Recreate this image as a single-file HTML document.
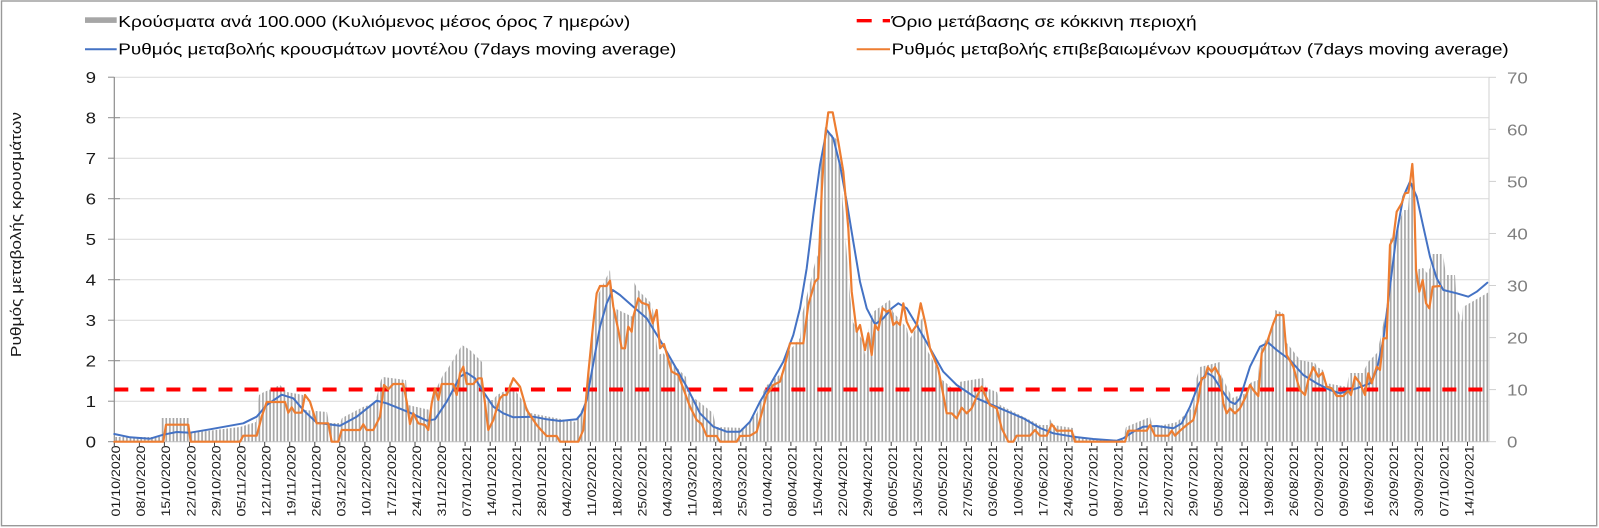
<!DOCTYPE html>
<html>
<head>
<meta charset="utf-8">
<style>
html,body{margin:0;padding:0;background:#fff;}
svg{display:block;}
text{font-family:"Liberation Sans","DejaVu Sans",sans-serif;}
</style>
</head>
<body>
<svg width="1599" height="528" viewBox="0 0 1599 528" xmlns="http://www.w3.org/2000/svg">
<defs>
<pattern id="barp" patternUnits="userSpaceOnUse" x="114.3" y="0" width="3.58" height="528">
<rect x="1.0" y="0" width="1.7" height="528" fill="#a6a6a6"/>
</pattern>
</defs>
<rect x="0" y="0" width="1599" height="528" fill="#fff"/>
<rect x="1.5" y="1" width="1595.2" height="524.7" fill="none" stroke="#999" stroke-width="1.4"/>

<!-- gridlines -->
<g stroke="#d9d9d9" stroke-width="1">
<line x1="114.3" y1="401.2" x2="1489" y2="401.2"/>
<line x1="114.3" y1="360.7" x2="1489" y2="360.7"/>
<line x1="114.3" y1="320.2" x2="1489" y2="320.2"/>
<line x1="114.3" y1="279.7" x2="1489" y2="279.7"/>
<line x1="114.3" y1="239.2" x2="1489" y2="239.2"/>
<line x1="114.3" y1="198.7" x2="1489" y2="198.7"/>
<line x1="114.3" y1="158.2" x2="1489" y2="158.2"/>
<line x1="114.3" y1="117.7" x2="1489" y2="117.7"/>
<line x1="114.3" y1="77.2" x2="1489" y2="77.2"/>
</g>

<!-- bars -->
<polygon fill="url(#barp)" points="114.3,441.7 114.3,437 160,437 161,418 189,418 190,433 240,427 256,422 259,395 262,393 280,385 287,392 303,395 305,410 327,412 329,423 340,423 342,418 363,407 375,403 381,380 383,377 406,380 408,405 430,410 432,397 443,375 447,370 462,345 470,350 482,362 484,400 493,400 497,395 507,390 510,383 527,407 530,413 576,422 586,400 588,373 593,323 597,297 610,270 612,307 633,317 634,282 638,290 650,302 653,310 658,355 663,353 686,377 688,393 713,413 716,427 745,428 750,421 757,413 763,392 767,385 783,372 786,355 800,338 802,315 807,295 817,255 818,257 821,162 825,127 837,140 840,167 850,295 853,322 863,342 865,355 869,328 873,312 890,300 893,312 907,328 909,340 923,317 926,348 937,368 940,378 957,392 959,382 983,378 986,388 997,392 1000,405 1040,425 1048,425 1050,419 1053,425 1073,428 1076,438 1123,440 1126,427 1150,417 1153,427 1173,423 1177,422 1193,407 1195,383 1200,367 1220,362 1222,377 1230,393 1232,398 1247,393 1250,383 1258,380 1260,350 1273,327 1275,310 1283,313 1286,342 1290,347 1300,360 1315,363 1317,367 1323,370 1326,383 1347,387 1349,373 1363,373 1368,362 1377,353 1380,340 1388,300 1390,240 1400,220 1403,210 1408,210 1410,183 1413,183 1415,270 1423,268 1427,273 1430,268 1432,254 1443,254 1446,275 1455,275 1457,308 1462,322 1463,307 1489,292 1489,441.7"/>

<!-- axes -->
<line x1="114.3" y1="77" x2="114.3" y2="442" stroke="#8c8c8c" stroke-width="1.2"/>
<line x1="1489" y1="77" x2="1489" y2="442" stroke="#d9d9d9" stroke-width="1.2"/>
<line x1="114.3" y1="441.7" x2="1489" y2="441.7" stroke="#bfbfbf" stroke-width="1"/>
<g stroke="#8c8c8c" stroke-width="1">
<line x1="108" y1="441.7" x2="114.3" y2="441.7"/>
<line x1="108" y1="401.2" x2="114.3" y2="401.2"/>
<line x1="108" y1="360.7" x2="120" y2="360.7"/>
<line x1="108" y1="320.2" x2="114.3" y2="320.2"/>
<line x1="108" y1="279.7" x2="120" y2="279.7"/>
<line x1="108" y1="239.2" x2="114.3" y2="239.2"/>
<line x1="108" y1="198.7" x2="120" y2="198.7"/>
<line x1="108" y1="158.2" x2="114.3" y2="158.2"/>
<line x1="108" y1="117.7" x2="120" y2="117.7"/>
<line x1="108" y1="77.2" x2="114.3" y2="77.2"/>
</g>
<g stroke="#d0d0d0" stroke-width="1">
<line x1="1489" y1="441.7" x2="1496" y2="441.7"/>
<line x1="1489" y1="389.6" x2="1496" y2="389.6"/>
<line x1="1489" y1="337.6" x2="1496" y2="337.6"/>
<line x1="1489" y1="285.5" x2="1496" y2="285.5"/>
<line x1="1489" y1="233.5" x2="1496" y2="233.5"/>
<line x1="1489" y1="181.4" x2="1496" y2="181.4"/>
<line x1="1489" y1="129.3" x2="1496" y2="129.3"/>
<line x1="1489" y1="77.3" x2="1496" y2="77.3"/>
</g>

<!-- x ticks -->
<g stroke="#404040" stroke-width="1">
<line x1="114.3" y1="442" x2="114.3" y2="446"/><line x1="139.4" y1="442" x2="139.4" y2="446"/><line x1="164.4" y1="442" x2="164.4" y2="446"/><line x1="189.5" y1="442" x2="189.5" y2="446"/><line x1="214.5" y1="442" x2="214.5" y2="446"/><line x1="239.6" y1="442" x2="239.6" y2="446"/><line x1="264.7" y1="442" x2="264.7" y2="446"/><line x1="289.7" y1="442" x2="289.7" y2="446"/><line x1="314.8" y1="442" x2="314.8" y2="446"/><line x1="339.8" y1="442" x2="339.8" y2="446"/><line x1="364.9" y1="442" x2="364.9" y2="446"/><line x1="390" y1="442" x2="390" y2="446"/><line x1="415" y1="442" x2="415" y2="446"/><line x1="440.1" y1="442" x2="440.1" y2="446"/><line x1="465.1" y1="442" x2="465.1" y2="446"/><line x1="490.2" y1="442" x2="490.2" y2="446"/><line x1="515.3" y1="442" x2="515.3" y2="446"/><line x1="540.3" y1="442" x2="540.3" y2="446"/><line x1="565.4" y1="442" x2="565.4" y2="446"/><line x1="590.4" y1="442" x2="590.4" y2="446"/><line x1="615.5" y1="442" x2="615.5" y2="446"/><line x1="640.6" y1="442" x2="640.6" y2="446"/><line x1="665.6" y1="442" x2="665.6" y2="446"/><line x1="690.7" y1="442" x2="690.7" y2="446"/><line x1="715.7" y1="442" x2="715.7" y2="446"/><line x1="740.8" y1="442" x2="740.8" y2="446"/><line x1="765.9" y1="442" x2="765.9" y2="446"/><line x1="790.9" y1="442" x2="790.9" y2="446"/><line x1="816" y1="442" x2="816" y2="446"/><line x1="841" y1="442" x2="841" y2="446"/><line x1="866.1" y1="442" x2="866.1" y2="446"/><line x1="891.2" y1="442" x2="891.2" y2="446"/><line x1="916.2" y1="442" x2="916.2" y2="446"/><line x1="941.3" y1="442" x2="941.3" y2="446"/><line x1="966.3" y1="442" x2="966.3" y2="446"/><line x1="991.4" y1="442" x2="991.4" y2="446"/><line x1="1016.5" y1="442" x2="1016.5" y2="446"/><line x1="1041.5" y1="442" x2="1041.5" y2="446"/><line x1="1066.6" y1="442" x2="1066.6" y2="446"/><line x1="1091.6" y1="442" x2="1091.6" y2="446"/><line x1="1116.7" y1="442" x2="1116.7" y2="446"/><line x1="1141.8" y1="442" x2="1141.8" y2="446"/><line x1="1166.8" y1="442" x2="1166.8" y2="446"/><line x1="1191.9" y1="442" x2="1191.9" y2="446"/><line x1="1216.9" y1="442" x2="1216.9" y2="446"/><line x1="1242" y1="442" x2="1242" y2="446"/><line x1="1267.1" y1="442" x2="1267.1" y2="446"/><line x1="1292.1" y1="442" x2="1292.1" y2="446"/><line x1="1317.2" y1="442" x2="1317.2" y2="446"/><line x1="1342.2" y1="442" x2="1342.2" y2="446"/><line x1="1367.3" y1="442" x2="1367.3" y2="446"/><line x1="1392.4" y1="442" x2="1392.4" y2="446"/><line x1="1417.4" y1="442" x2="1417.4" y2="446"/><line x1="1442.5" y1="442" x2="1442.5" y2="446"/><line x1="1467.5" y1="442" x2="1467.5" y2="446"/>
</g>

<!-- threshold -->
<line x1="114.3" y1="389.5" x2="1489" y2="389.5" stroke="#ff0000" stroke-width="4" stroke-dasharray="14 12.04"/>

<!-- blue model line -->
<polyline fill="none" stroke="#4472c4" stroke-width="2" stroke-linejoin="round" stroke-linecap="round" points="114.3,434 130,437.3 150,438.7 163.3,434.7 176.7,432 190,432.7 210,429.3 243.3,423.3 256.7,416.7 266.7,405 281.7,394.7 293.3,398.3 303.3,410 316.7,422.7 340,425.7 356.7,416.7 376.7,400.7 386.7,403.3 410,412.7 426.7,420.7 435,419.3 446.7,401.7 460,376.7 466.7,372.7 475,378.3 483.3,391.7 493.3,406.7 503.3,413.3 513.3,417.3 533.3,416.7 546.7,419.3 560,421 576.7,419.3 581.7,413.3 586.7,400 593.3,363.3 600,326.7 606.7,303.3 612.7,290 620,295 633.3,306.7 646.7,318.3 660,340 673.3,363.3 686.7,386.7 700,413.3 713.3,426.7 726.7,431.7 740,431.7 750,421.7 760,401.7 770,385 783.3,361.7 793.3,335 800,308.3 806.7,268.3 813.3,215 820,165 826.7,130 833.3,138.3 840,165 846.7,201.7 853.3,241.7 860,281.7 866.7,308.3 875,324.3 883.3,318.3 891.7,308.3 898.3,303.3 906.7,308.3 916.7,325 930,348.3 943.3,371.7 956.7,385 976.7,398.3 1000,408.3 1023.3,418.3 1040,428 1053.3,433.3 1073.3,436.7 1093.3,439 1116.7,440.7 1123.3,438.3 1133.3,431.7 1143.3,426.7 1156.7,426 1173.3,428.3 1181.7,423.3 1190,406.7 1198.3,385 1206.7,372.7 1213.3,376.7 1221.7,390 1230,401.7 1235,404 1240,398.3 1250,366.7 1260,346.7 1268.3,342.7 1276.7,350 1290,360 1303.3,375 1316.7,383.3 1330,390 1340,393.3 1356.7,388.3 1370,383.3 1376.7,370 1383.3,340 1390,286.7 1396.7,233.3 1403.3,196.7 1410,181.7 1416.7,196.7 1423.3,226.7 1430,256.7 1436.7,278.3 1443.3,290 1456.7,293.3 1468.3,296.7 1476.7,291.7 1487.3,282.7"/>

<!-- orange confirmed line -->
<polyline fill="none" stroke="#ed7d31" stroke-width="2.2" stroke-linejoin="round" stroke-linecap="round" points="114.3,441.7 163.3,441.7 166,424.7 188.3,424.7 190.7,441.7 240,441.7 243.3,435.7 256.7,435.7 261.7,416.7 266.7,402 285,402 288.3,412.7 291.7,407.3 295,412.7 301.7,412.7 305,395 310,401.7 316.7,423.3 328.3,423.3 331.7,441.7 338.3,441.7 341.7,430 360,430 363.3,424.3 366.7,430 373.3,430 380,416.7 384,385 388.3,389.3 393.3,384 403.3,384 406.7,401.7 410,424 413.3,413.3 418.3,423.3 425,425 428.3,430 431.7,403.3 435,388.3 438.3,400 441.7,384 453.3,384 456.7,395 460,373.3 463.3,366.7 466.7,384 473.3,384 478.3,378.3 481.7,378.3 485,403.3 488.3,430 493.3,420 500,398.3 503.3,395 506.7,395 513.3,378.3 520,386.7 526.7,410 536.7,425 541.7,430.7 546.7,436 556.7,436 560,441.7 578.3,441.7 583.3,430 588.3,373.3 593.3,323.3 596.7,293.3 600,286 606.7,286 610,280.7 613.3,306.7 618.3,330 621.7,348.3 625,348.3 628.3,326.7 631.7,331.7 633.3,316.7 638.3,298.3 641.7,302.7 648.3,305 652.7,323.3 656.7,310 660,348.3 664,344 671.7,371.7 678.3,375 690,406.7 696.7,420 701.7,424 706.7,436 716.7,436 720,441.7 736.7,441.7 740,436 750,435.7 756.7,431.7 766.7,395 773.3,385 780,381.7 785,365 790,343.3 803.3,343.3 808.3,305 815,281.7 818.3,278.3 821.7,191.7 825,138.3 828.3,112.3 832.7,112.3 838.3,141.7 843.3,171.7 848.3,228.3 851.7,291.7 856.7,331.7 860,325 865,350 868.3,333.3 871.7,355 875,325 878.3,330 882.7,308.3 886.7,311.7 890,310 893.3,325 896.7,321.7 900,325 903.3,303.3 906.7,321.7 911.7,332.3 916.7,325 920.7,303.3 925,321.7 930,348.3 938.3,369 943.3,395 946.7,413.3 951.7,413.3 956.7,418.3 961.7,407.7 966.7,413.3 971.7,408.3 976.7,396.7 981.7,386.7 985,395 990,405 996.7,408.3 1001.7,428.3 1008.3,441.7 1013.3,441.7 1016.7,435.7 1030,435.7 1035,430 1040,435.7 1046.7,435.7 1051.7,424.3 1056.7,430.7 1071.7,430.7 1075,441.7 1125,441.7 1128.3,430.7 1146.7,430.7 1150,425 1155,435.7 1168.3,435.7 1171.7,430.7 1175,435.7 1180,430.7 1186.7,425 1193.3,420 1198.3,400 1201.7,378.3 1205,377.3 1207.7,367.3 1211.7,371.7 1215,367.3 1220,376.7 1223.3,403.3 1226.7,413.3 1230,408.3 1235,413.3 1240,408.3 1245,398.3 1250,385 1253.3,390 1258.3,396 1261.7,353.3 1266.7,343.3 1273.3,323.3 1276.7,315 1283.3,315 1286.7,355 1293.3,366.7 1298.3,385 1300,390 1305,395 1308.3,380 1313.3,367.3 1318.3,376.7 1322.7,372.7 1326.7,386.7 1331.7,388.3 1336.7,396 1343.3,396 1348.3,390.7 1351,395 1355,376.7 1360,383.3 1365,395 1368.3,373.3 1371.7,383.3 1376.7,366.7 1380,370 1383.3,338.3 1386.7,338.3 1390,245 1393.3,238.3 1396.7,211.7 1401.7,203.3 1405,193.3 1408.3,192.7 1410,183.3 1412.3,164 1414,190 1416,270 1419.3,291.7 1422.7,280 1426,303.3 1429.3,308.3 1432.7,286.7 1440,286"/>

<!-- left axis labels -->
<g transform="translate(96,0) scale(1.17,1)" font-size="16" fill="#1a1a1a" text-anchor="end">
<text x="0" y="447.7">0</text>
<text x="0" y="407.2">1</text>
<text x="0" y="366.7">2</text>
<text x="0" y="326.2">3</text>
<text x="0" y="285.7">4</text>
<text x="0" y="245.2">5</text>
<text x="0" y="204.7">6</text>
<text x="0" y="164.2">7</text>
<text x="0" y="123.7">8</text>
<text x="0" y="83.2">9</text>
</g>

<!-- right axis labels -->
<g transform="translate(1507,0) scale(1.17,1)" font-size="16" fill="#7f7f7f" text-anchor="start">
<text x="0" y="447.7">0</text>
<text x="0" y="395.6">10</text>
<text x="0" y="343.6">20</text>
<text x="0" y="291.5">30</text>
<text x="0" y="239.5">40</text>
<text x="0" y="187.4">50</text>
<text x="0" y="135.3">60</text>
<text x="0" y="83.3">70</text>
</g>

<!-- y axis title -->
<text transform="translate(21,234.6) rotate(-90)" font-size="15" fill="#1a1a1a" text-anchor="middle" textLength="245" lengthAdjust="spacingAndGlyphs">Ρυθμός μεταβολής κρουσμάτων</text>

<!-- x labels -->
<g font-size="12" fill="#1a1a1a" text-anchor="end">
<text transform="translate(120.1,445.5) rotate(-90)" textLength="71" lengthAdjust="spacingAndGlyphs">01/10/2020</text>
<text transform="translate(145.2,445.5) rotate(-90)" textLength="71" lengthAdjust="spacingAndGlyphs">08/10/2020</text>
<text transform="translate(170.2,445.5) rotate(-90)" textLength="71" lengthAdjust="spacingAndGlyphs">15/10/2020</text>
<text transform="translate(195.3,445.5) rotate(-90)" textLength="71" lengthAdjust="spacingAndGlyphs">22/10/2020</text>
<text transform="translate(220.3,445.5) rotate(-90)" textLength="71" lengthAdjust="spacingAndGlyphs">29/10/2020</text>
<text transform="translate(245.4,445.5) rotate(-90)" textLength="71" lengthAdjust="spacingAndGlyphs">05/11/2020</text>
<text transform="translate(270.5,445.5) rotate(-90)" textLength="71" lengthAdjust="spacingAndGlyphs">12/11/2020</text>
<text transform="translate(295.5,445.5) rotate(-90)" textLength="71" lengthAdjust="spacingAndGlyphs">19/11/2020</text>
<text transform="translate(320.6,445.5) rotate(-90)" textLength="71" lengthAdjust="spacingAndGlyphs">26/11/2020</text>
<text transform="translate(345.6,445.5) rotate(-90)" textLength="71" lengthAdjust="spacingAndGlyphs">03/12/2020</text>
<text transform="translate(370.7,445.5) rotate(-90)" textLength="71" lengthAdjust="spacingAndGlyphs">10/12/2020</text>
<text transform="translate(395.8,445.5) rotate(-90)" textLength="71" lengthAdjust="spacingAndGlyphs">17/12/2020</text>
<text transform="translate(420.8,445.5) rotate(-90)" textLength="71" lengthAdjust="spacingAndGlyphs">24/12/2020</text>
<text transform="translate(445.9,445.5) rotate(-90)" textLength="71" lengthAdjust="spacingAndGlyphs">31/12/2020</text>
<text transform="translate(470.9,445.5) rotate(-90)" textLength="71" lengthAdjust="spacingAndGlyphs">07/01/2021</text>
<text transform="translate(496,445.5) rotate(-90)" textLength="71" lengthAdjust="spacingAndGlyphs">14/01/2021</text>
<text transform="translate(521.1,445.5) rotate(-90)" textLength="71" lengthAdjust="spacingAndGlyphs">21/01/2021</text>
<text transform="translate(546.1,445.5) rotate(-90)" textLength="71" lengthAdjust="spacingAndGlyphs">28/01/2021</text>
<text transform="translate(571.2,445.5) rotate(-90)" textLength="71" lengthAdjust="spacingAndGlyphs">04/02/2021</text>
<text transform="translate(596.2,445.5) rotate(-90)" textLength="71" lengthAdjust="spacingAndGlyphs">11/02/2021</text>
<text transform="translate(621.3,445.5) rotate(-90)" textLength="71" lengthAdjust="spacingAndGlyphs">18/02/2021</text>
<text transform="translate(646.4,445.5) rotate(-90)" textLength="71" lengthAdjust="spacingAndGlyphs">25/02/2021</text>
<text transform="translate(671.4,445.5) rotate(-90)" textLength="71" lengthAdjust="spacingAndGlyphs">04/03/2021</text>
<text transform="translate(696.5,445.5) rotate(-90)" textLength="71" lengthAdjust="spacingAndGlyphs">11/03/2021</text>
<text transform="translate(721.5,445.5) rotate(-90)" textLength="71" lengthAdjust="spacingAndGlyphs">18/03/2021</text>
<text transform="translate(746.6,445.5) rotate(-90)" textLength="71" lengthAdjust="spacingAndGlyphs">25/03/2021</text>
<text transform="translate(771.7,445.5) rotate(-90)" textLength="71" lengthAdjust="spacingAndGlyphs">01/04/2021</text>
<text transform="translate(796.7,445.5) rotate(-90)" textLength="71" lengthAdjust="spacingAndGlyphs">08/04/2021</text>
<text transform="translate(821.8,445.5) rotate(-90)" textLength="71" lengthAdjust="spacingAndGlyphs">15/04/2021</text>
<text transform="translate(846.8,445.5) rotate(-90)" textLength="71" lengthAdjust="spacingAndGlyphs">22/04/2021</text>
<text transform="translate(871.9,445.5) rotate(-90)" textLength="71" lengthAdjust="spacingAndGlyphs">29/04/2021</text>
<text transform="translate(897,445.5) rotate(-90)" textLength="71" lengthAdjust="spacingAndGlyphs">06/05/2021</text>
<text transform="translate(922,445.5) rotate(-90)" textLength="71" lengthAdjust="spacingAndGlyphs">13/05/2021</text>
<text transform="translate(947.1,445.5) rotate(-90)" textLength="71" lengthAdjust="spacingAndGlyphs">20/05/2021</text>
<text transform="translate(972.1,445.5) rotate(-90)" textLength="71" lengthAdjust="spacingAndGlyphs">27/05/2021</text>
<text transform="translate(997.2,445.5) rotate(-90)" textLength="71" lengthAdjust="spacingAndGlyphs">03/06/2021</text>
<text transform="translate(1022.3,445.5) rotate(-90)" textLength="71" lengthAdjust="spacingAndGlyphs">10/06/2021</text>
<text transform="translate(1047.3,445.5) rotate(-90)" textLength="71" lengthAdjust="spacingAndGlyphs">17/06/2021</text>
<text transform="translate(1072.4,445.5) rotate(-90)" textLength="71" lengthAdjust="spacingAndGlyphs">24/06/2021</text>
<text transform="translate(1097.4,445.5) rotate(-90)" textLength="71" lengthAdjust="spacingAndGlyphs">01/07/2021</text>
<text transform="translate(1122.5,445.5) rotate(-90)" textLength="71" lengthAdjust="spacingAndGlyphs">08/07/2021</text>
<text transform="translate(1147.6,445.5) rotate(-90)" textLength="71" lengthAdjust="spacingAndGlyphs">15/07/2021</text>
<text transform="translate(1172.6,445.5) rotate(-90)" textLength="71" lengthAdjust="spacingAndGlyphs">22/07/2021</text>
<text transform="translate(1197.7,445.5) rotate(-90)" textLength="71" lengthAdjust="spacingAndGlyphs">29/07/2021</text>
<text transform="translate(1222.7,445.5) rotate(-90)" textLength="71" lengthAdjust="spacingAndGlyphs">05/08/2021</text>
<text transform="translate(1247.8,445.5) rotate(-90)" textLength="71" lengthAdjust="spacingAndGlyphs">12/08/2021</text>
<text transform="translate(1272.9,445.5) rotate(-90)" textLength="71" lengthAdjust="spacingAndGlyphs">19/08/2021</text>
<text transform="translate(1297.9,445.5) rotate(-90)" textLength="71" lengthAdjust="spacingAndGlyphs">26/08/2021</text>
<text transform="translate(1323,445.5) rotate(-90)" textLength="71" lengthAdjust="spacingAndGlyphs">02/09/2021</text>
<text transform="translate(1348,445.5) rotate(-90)" textLength="71" lengthAdjust="spacingAndGlyphs">09/09/2021</text>
<text transform="translate(1373.1,445.5) rotate(-90)" textLength="71" lengthAdjust="spacingAndGlyphs">16/09/2021</text>
<text transform="translate(1398.2,445.5) rotate(-90)" textLength="71" lengthAdjust="spacingAndGlyphs">23/09/2021</text>
<text transform="translate(1423.2,445.5) rotate(-90)" textLength="71" lengthAdjust="spacingAndGlyphs">30/09/2021</text>
<text transform="translate(1448.3,445.5) rotate(-90)" textLength="71" lengthAdjust="spacingAndGlyphs">07/10/2021</text>
<text transform="translate(1473.3,445.5) rotate(-90)" textLength="71" lengthAdjust="spacingAndGlyphs">14/10/2021</text>
</g>

<!-- legend -->
<rect x="85" y="17.3" width="31.7" height="5.6" fill="#a6a6a6"/>
<text x="118.3" y="27" font-size="16" fill="#000" textLength="512" lengthAdjust="spacingAndGlyphs">Κρούσματα ανά 100.000 (Κυλιόμενος μέσος όρος 7 ημερών)</text>
<line x1="85" y1="49.3" x2="116.7" y2="49.3" stroke="#4472c4" stroke-width="2"/>
<text x="118.3" y="54.5" font-size="16" fill="#000" textLength="558" lengthAdjust="spacingAndGlyphs">Ρυθμός μεταβολής κρουσμάτων μοντέλου (7days moving average)</text>
<line x1="856.7" y1="20.7" x2="890" y2="20.7" stroke="#ff0000" stroke-width="3.4" stroke-dasharray="15 11"/>
<text x="891.7" y="27" font-size="16" fill="#000" textLength="305" lengthAdjust="spacingAndGlyphs">Όριο μετάβασης σε κόκκινη περιοχή</text>
<line x1="856.7" y1="49.3" x2="890" y2="49.3" stroke="#ed7d31" stroke-width="2"/>
<text x="891.7" y="54.5" font-size="16" fill="#000" textLength="617" lengthAdjust="spacingAndGlyphs">Ρυθμός μεταβολής επιβεβαιωμένων κρουσμάτων (7days moving average)</text>
</svg>
</body>
</html>
